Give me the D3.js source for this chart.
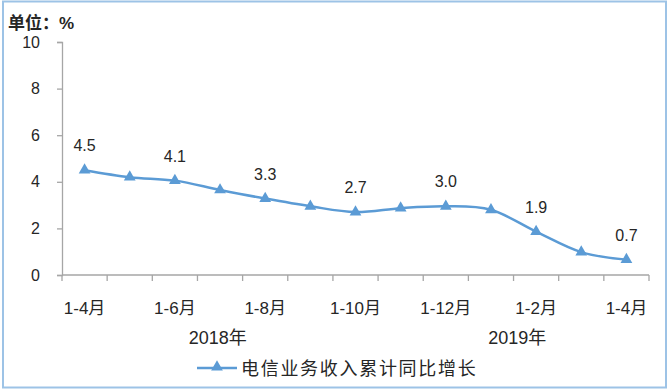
<!DOCTYPE html>
<html><head><meta charset="utf-8">
<script src="https://cdn.jsdelivr.net/npm/d3@7"></script>
<style>
html,body{margin:0;padding:0;background:#fff;}
svg{display:block;}
text{font-family:"Liberation Sans","Noto Sans CJK SC",sans-serif;fill:#262626;}
</style></head>
<body><svg id="c" width="669" height="391"></svg>
<script>
const categories = ["1-4月","1-5月","1-6月","1-7月","1-8月","1-9月","1-10月","1-11月","1-12月","1月","1-2月","1-3月","1-4月"];
const values = [4.5, 4.2, 4.05, 3.65, 3.28, 2.95, 2.7, 2.87, 2.95, 2.8, 1.86, 0.98, 0.66];
const valueLabels = ["4.5", "", "4.1", "", "3.3", "", "2.7", "", "3.0", "", "1.9", "", "0.7"];
const yTicks = [0, 2, 4, 6, 8, 10];
const years = ["2018年", "2019年"];
const yearPos = [3.45, 10.08];   // in category-band units
const seriesName = "电信业务收入累计同比增长";
const unitLabel = "单位：%";

const svg = d3.select("#c");
const color = "#5B9BD5";
const axisColor = "#A6A6A6";

// border
svg.append("rect").attr("x", 3).attr("y", 1.5).attr("width", 663).attr("height", 386)
  .attr("fill", "none").attr("stroke", "#9DC3E6").attr("stroke-width", 2);

const x0 = 62, x1 = 649, yTop = 42, yBot = 275;
const x = d3.scaleBand().domain(d3.range(categories.length)).range([x0, x1]);
const y = d3.scaleLinear().domain([0, 10]).range([yBot, yTop]);
const bw = x.bandwidth();

// y axis
const gy = svg.append("g").attr("transform", `translate(${x0},0)`)
  .call(d3.axisLeft(y).tickValues(yTicks).tickSize(5).tickPadding(17));
gy.select(".domain").attr("stroke", axisColor).attr("stroke-width", 1.3);
gy.selectAll(".tick line").attr("stroke", axisColor).attr("stroke-width", 1.3);
gy.selectAll(".tick text").attr("font-size", 16).attr("font-family", "Liberation Sans").attr("fill", "#262626");

// x axis (ticks at band boundaries)
svg.append("line").attr("x1", x0).attr("x2", x1).attr("y1", yBot).attr("y2", yBot)
  .attr("stroke", axisColor).attr("stroke-width", 1.3);
const bounds = d3.range(categories.length + 1).map(i => x0 + i * bw);
svg.selectAll(".xt").data(bounds).join("line")
  .attr("x1", d => d).attr("x2", d => d).attr("y1", yBot).attr("y2", yBot + 6)
  .attr("stroke", axisColor).attr("stroke-width", 1.3);

svg.selectAll(".xl").data(categories.map((c, i) => ({c, i})).filter(d => d.i % 2 === 0)).join("text")
  .attr("x", d => x(d.i) + bw / 2).attr("y", 314)
  .attr("text-anchor", "middle").attr("font-size", 17).text(d => d.c);

svg.selectAll(".yr").data(years).join("text")
  .attr("x", (d, i) => x0 + yearPos[i] * bw).attr("y", 344)
  .attr("text-anchor", "middle").attr("font-size", 18)
  .attr("font-family", "Liberation Serif, Noto Sans CJK SC").text(d => d);

// line
const line = d3.line().x((d, i) => x(i) + bw / 2).y(d => y(d)).curve(d3.curveCardinal.tension(0));
svg.append("path").datum(values).attr("d", line).attr("fill", "none")
  .attr("stroke", color).attr("stroke-width", 2.5);

const tri = d3.symbol().type(d3.symbolTriangle).size(60);
svg.selectAll(".mk").data(values).join("path")
  .attr("transform", (d, i) => `translate(${x(i) + bw / 2},${y(d)})`)
  .attr("d", tri).attr("fill", color);

svg.selectAll(".vl").data(values).join("text")
  .attr("x", (d, i) => x(i) + bw / 2).attr("y", d => y(d) - 19)
  .attr("text-anchor", "middle").attr("font-size", 16).text((d, i) => valueLabels[i]);

// unit
svg.append("text").attr("x", 8).attr("y", 29).attr("font-size", 17).attr("font-weight", "bold")
  .attr("fill", "#000").text(unitLabel);

// legend
svg.append("line").attr("x1", 197).attr("x2", 237).attr("y1", 368).attr("y2", 368)
  .attr("stroke", color).attr("stroke-width", 2.5);
svg.append("path").attr("transform", "translate(217,367)").attr("d", tri).attr("fill", color);
svg.append("text").attr("x", 241).attr("y", 375).attr("font-size", 18).attr("letter-spacing", 1.7)
  .text(seriesName);
</script></body></html>
